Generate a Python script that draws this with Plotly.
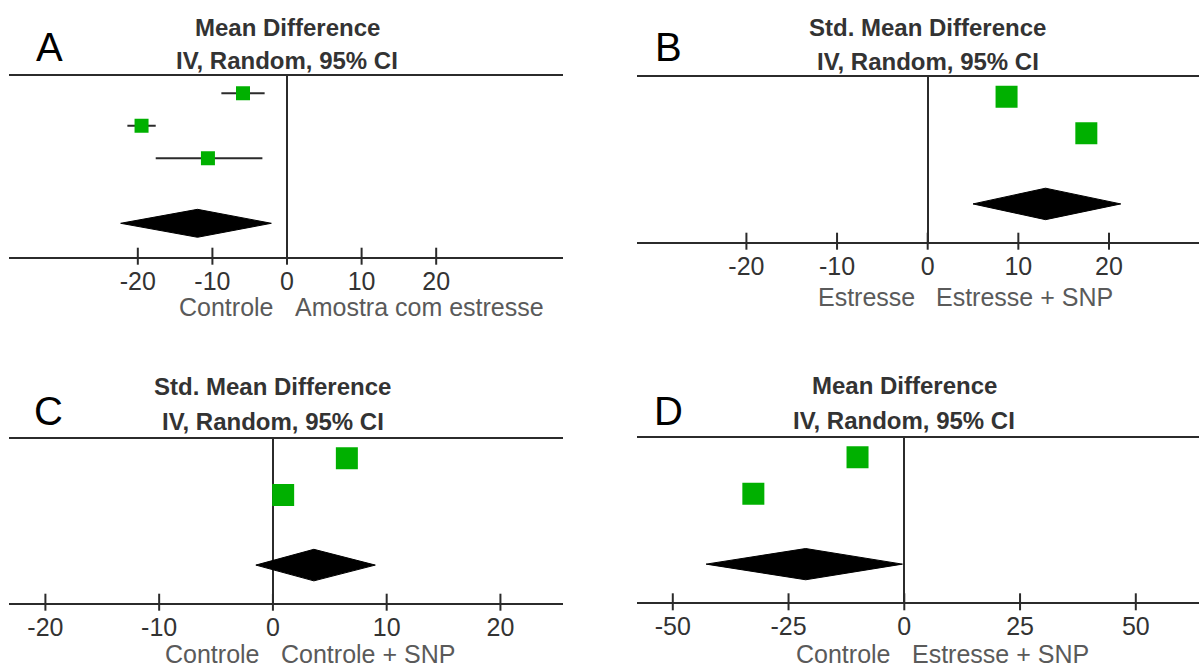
import plotly.graph_objects as go

# ---------------- data ----------------
A_rows = [1, 2, 3]
A_est = [-5.9, -19.5, -10.6]
A_lo = [-8.8, -21.4, -17.6]
A_hi = [-3.0, -17.6, -3.3]
A_pool = [-12.0, -22.3, -2.1]   # estimate, lower, upper
A_pool_row = 5

B_rows = [1, 2]
B_est = [8.7, 17.5]
B_pool = [13.0, 5.0, 21.3]
B_pool_row = 3.93

C_rows = [1, 2]
C_est = [6.5, 0.9]
C_pool = [3.6, -1.5, 9.0]
C_pool_row = 3.91

D_rows = [1, 2]
D_est = [-10.1, -32.6]
D_pool = [-21.3, -42.8, -0.4]
D_pool_row = 3.94

ticks_ABC = [-20, -10, 0, 10, 20]
ticks_D = [-50, -25, 0, 25, 50]

letters = ["A", "B", "C", "D"]
title1 = ["Mean Difference", "Std. Mean Difference", "Std. Mean Difference", "Mean Difference"]
title2 = ["IV, Random, 95% CI"] * 4
left_lbl = ["Controle", "Estresse", "Controle", "Controle"]
right_lbl = ["Amostra com estresse", "Estresse + SNP", "Controle + SNP", "Estresse + SNP"]

# ---------------- layout geometry (pixels) ----------------
W, H = 1199, 672
def px(x):
    return x / W
def py(y):
    return 1 - y / H

panels = [
    dict(xd=[9, 563], yd=[256.7, 75.7], xr=[-37.27, 37.0], yr=[6.028, 0.4585], tv=ticks_ABC,
         letter=(50, 47), lab_y=306.7, t1=-48, t2=-15),
    dict(xd=[637, 1199], yd=[241.7, 77.3], xr=[-32.07, 29.93], yr=[4.962, 0.470], tv=ticks_ABC,
         letter=(668, 47), lab_y=296.7, t1=-50, t2=-16),
    dict(xd=[9, 563], yd=[602.7, 439.0], xr=[-23.2, 25.5], yr=[4.935, 0.474], tv=ticks_ABC,
         letter=(48, 411), lab_y=654, t1=-53, t2=-18),
    dict(xd=[637, 1199], yd=[602.3, 438.3], xr=[-57.73, 63.65], yr=[4.99, 0.477], tv=ticks_D,
         letter=(668, 411), lab_y=654, t1=-53, t2=-18),
]

GREEN = "#00B000"
LINE = "#2b2b2b"
TXT = "#333333"
SUB = "#5a5a5a"
FONT = "Liberation Sans, Arial, sans-serif"
DH = 0.43  # diamond half height in row units

fig = go.Figure()

def add_diamond(pool, row, k):
    est, lo, hi = pool
    fig.add_trace(go.Scatter(
        x=[lo, est, hi, est, lo], y=[row, row - DH, row, row + DH, row],
        mode="lines", fill="toself", fillcolor="black",
        line=dict(color="black", width=1), hoverinfo="skip",
        xaxis=f"x{k}", yaxis=f"y{k}", showlegend=False))

# Panel A: CI whiskers
for r, lo, hi in zip(A_rows, A_lo, A_hi):
    fig.add_trace(go.Scatter(x=[lo, hi], y=[r, r], mode="lines",
                             line=dict(color=LINE, width=2),
                             xaxis="x", yaxis="y", showlegend=False, hoverinfo="skip"))
fig.add_trace(go.Scatter(x=A_est, y=A_rows, mode="markers",
                         marker=dict(symbol="square", size=14, color=GREEN, line=dict(width=0)),
                         xaxis="x", yaxis="y", showlegend=False))
add_diamond(A_pool, A_pool_row, "")

for k, est, rows, pool, prow in [("2", B_est, B_rows, B_pool, B_pool_row),
                                 ("3", C_est, C_rows, C_pool, C_pool_row),
                                 ("4", D_est, D_rows, D_pool, D_pool_row)]:
    fig.add_trace(go.Scatter(x=est, y=rows, mode="markers",
                             marker=dict(symbol="square", size=22, color=GREEN, line=dict(width=0)),
                             xaxis=f"x{k}", yaxis=f"y{k}", showlegend=False))
    add_diamond(pool, prow, k)

layout = dict(width=W, height=H, margin=dict(l=0, r=0, t=0, b=0),
              paper_bgcolor="white", plot_bgcolor="white", showlegend=False,
              font=dict(family=FONT, color=TXT))
annotations = []
shapes = []
for i, p in enumerate(panels):
    sfx = "" if i == 0 else str(i + 1)
    layout["xaxis" + sfx] = dict(
        domain=[px(p["xd"][0]), px(p["xd"][1])], range=p["xr"],
        anchor="y" + sfx, showline=True, mirror=True, linecolor=LINE, linewidth=2,
        showgrid=False, zeroline=True, zerolinecolor=LINE, zerolinewidth=1.5,
        tickmode="array", tickvals=p["tv"], ticktext=[str(v) for v in p["tv"]],
        ticks="", tickfont=dict(size=25, color=TXT, family=FONT), ticklabelstandoff=1,
        fixedrange=True)
    layout["yaxis" + sfx] = dict(
        domain=[py(p["yd"][0]), py(p["yd"][1])], range=p["yr"],
        anchor="x" + sfx, visible=False, fixedrange=True)
    xref = "x" + sfx
    top = p["yd"][1]
    bot = p["yd"][0]
    # tick marks crossing the axis line, placed at the tick values
    for v in p["tv"]:
        shapes.append(dict(type="line", xref=xref, yref="paper", x0=v, x1=v,
                           y0=py(bot + 8), y1=py(bot - 9), layer="above",
                           line=dict(color=LINE, width=2)))
    # panel letter
    annotations.append(dict(text=letters[i], x=px(p["letter"][0]), y=py(p["letter"][1]),
                            xref="paper", yref="paper", xanchor="center", yanchor="middle",
                            showarrow=False, font=dict(size=40, color="black", family=FONT)))
    # two-line title centred on zero
    annotations.append(dict(text="<b>" + title1[i] + "</b>", x=0, xref=xref,
                            y=py(top + p["t1"]), yref="paper", xanchor="center", yanchor="middle",
                            showarrow=False, font=dict(size=24, color=TXT, family=FONT)))
    annotations.append(dict(text="<b>" + title2[i] + "</b>", x=0, xref=xref,
                            y=py(top + p["t2"]), yref="paper", xanchor="center", yanchor="middle",
                            showarrow=False, font=dict(size=24, color=TXT, family=FONT)))
    # favours labels
    annotations.append(dict(text=left_lbl[i], x=0, xref=xref, y=py(p["lab_y"]), yref="paper",
                            xanchor="right", yanchor="middle", xshift=-11, showarrow=False,
                            font=dict(size=25, color=SUB, family=FONT)))
    annotations.append(dict(text=right_lbl[i], x=0, xref=xref, y=py(p["lab_y"]), yref="paper",
                            xanchor="left", yanchor="middle", xshift=6, showarrow=False,
                            font=dict(size=25, color=SUB, family=FONT)))
layout["annotations"] = annotations
layout["shapes"] = shapes
fig.update_layout(**layout)

fig.write_html("out.html")
